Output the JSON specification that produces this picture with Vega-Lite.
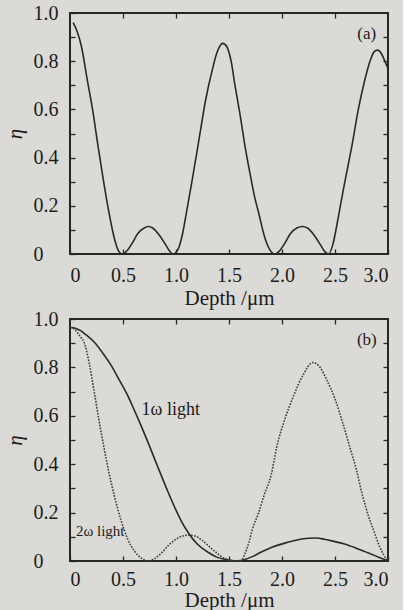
{
  "$schema": "https://vega.github.io/schema/vega-lite/v6.json",
  "background": "#dbdad6",
  "padding": {"left": 3, "top": 2, "right": 10, "bottom": 0},
  "spacing": -1,
  "config": {
    "font": "Liberation Serif",
    "view": {"stroke": "#262626", "strokeWidth": 2},
    "axis": {
      "grid": false, "domain": false, "tickColor": "#262626", "tickWidth": 1.3, "tickSize": 5, "offset": -5,
      "labelFont": "Liberation Serif", "labelFontSize": 20, "labelColor": "#1c1c1c",
      "titleFont": "Liberation Serif", "titleFontSize": 21, "titleFontWeight": "normal", "titleColor": "#1c1c1c"
    },
    "line": {"interpolate": "monotone", "color": "#2a2a2a", "strokeWidth": 1.6},
    "text": {"font": "Liberation Serif", "color": "#1c1c1c"}
  },
  "datasets": {
    "one": [{}],
    "a": [
      {"d":0.03,"eta":0.96},{"d":0.07,"eta":0.92},{"d":0.11,"eta":0.857},{"d":0.16,"eta":0.73},{"d":0.22,"eta":0.58},{"d":0.26,"eta":0.46},{"d":0.31,"eta":0.32},{"d":0.36,"eta":0.19},{"d":0.41,"eta":0.08},{"d":0.45,"eta":0.02},{"d":0.49,"eta":0.0},{"d":0.53,"eta":0.01},{"d":0.58,"eta":0.04},{"d":0.64,"eta":0.085},{"d":0.70,"eta":0.108},{"d":0.74,"eta":0.114},{"d":0.78,"eta":0.108},{"d":0.84,"eta":0.08},{"d":0.90,"eta":0.04},{"d":0.94,"eta":0.012},{"d":0.975,"eta":0.0},{"d":1.02,"eta":0.02},{"d":1.06,"eta":0.08},{"d":1.10,"eta":0.176},{"d":1.15,"eta":0.30},{"d":1.20,"eta":0.43},{"d":1.23,"eta":0.51},{"d":1.28,"eta":0.64},{"d":1.34,"eta":0.76},{"d":1.39,"eta":0.84},{"d":1.44,"eta":0.874},{"d":1.48,"eta":0.86},{"d":1.52,"eta":0.80},{"d":1.56,"eta":0.69},{"d":1.60,"eta":0.59},{"d":1.65,"eta":0.45},{"d":1.70,"eta":0.33},{"d":1.74,"eta":0.24},{"d":1.78,"eta":0.17},{"d":1.83,"eta":0.08},{"d":1.87,"eta":0.03},{"d":1.90,"eta":0.008},{"d":1.93,"eta":0.0},{"d":1.97,"eta":0.01},{"d":2.02,"eta":0.04},{"d":2.08,"eta":0.085},{"d":2.14,"eta":0.108},{"d":2.19,"eta":0.114},{"d":2.24,"eta":0.108},{"d":2.30,"eta":0.08},{"d":2.36,"eta":0.04},{"d":2.40,"eta":0.012},{"d":2.44,"eta":0.0},{"d":2.48,"eta":0.04},{"d":2.53,"eta":0.15},{"d":2.58,"eta":0.27},{"d":2.62,"eta":0.36},{"d":2.66,"eta":0.45},{"d":2.72,"eta":0.60},{"d":2.78,"eta":0.72},{"d":2.83,"eta":0.80},{"d":2.87,"eta":0.84},{"d":2.90,"eta":0.846},{"d":2.94,"eta":0.83},{"d":2.97,"eta":0.80},{"d":3.0,"eta":0.77}
    ],
    "b1": [
      {"d":0,"eta":0.965},{"d":0.05,"eta":0.962},{"d":0.10,"eta":0.952},{"d":0.15,"eta":0.935},{"d":0.23,"eta":0.904},{"d":0.30,"eta":0.865},{"d":0.39,"eta":0.807},{"d":0.45,"eta":0.76},{"d":0.545,"eta":0.683},{"d":0.60,"eta":0.63},{"d":0.65,"eta":0.58},{"d":0.736,"eta":0.49},{"d":0.80,"eta":0.42},{"d":0.85,"eta":0.365},{"d":0.926,"eta":0.284},{"d":1.00,"eta":0.21},{"d":1.05,"eta":0.165},{"d":1.116,"eta":0.117},{"d":1.20,"eta":0.07},{"d":1.306,"eta":0.035},{"d":1.38,"eta":0.017},{"d":1.46,"eta":0.007},{"d":1.53,"eta":0.002},{"d":1.58,"eta":0.001},{"d":1.65,"eta":0.006},{"d":1.72,"eta":0.018},{"d":1.80,"eta":0.036},{"d":1.90,"eta":0.056},{"d":2.05,"eta":0.077},{"d":2.15,"eta":0.088},{"d":2.25,"eta":0.094},{"d":2.32,"eta":0.095},{"d":2.40,"eta":0.09},{"d":2.50,"eta":0.08},{"d":2.59,"eta":0.07},{"d":2.70,"eta":0.053},{"d":2.81,"eta":0.034},{"d":2.90,"eta":0.018},{"d":3.00,"eta":0.0}
    ],
    "b2": [
      {"d":0,"eta":0.965},{"d":0.05,"eta":0.955},{"d":0.10,"eta":0.925},{"d":0.133,"eta":0.904},{"d":0.18,"eta":0.82},{"d":0.228,"eta":0.70},{"d":0.27,"eta":0.59},{"d":0.323,"eta":0.463},{"d":0.37,"eta":0.36},{"d":0.418,"eta":0.27},{"d":0.48,"eta":0.17},{"d":0.545,"eta":0.09},{"d":0.61,"eta":0.04},{"d":0.672,"eta":0.012},{"d":0.735,"eta":0.0},{"d":0.80,"eta":0.01},{"d":0.86,"eta":0.032},{"d":0.926,"eta":0.063},{"d":1.00,"eta":0.09},{"d":1.06,"eta":0.103},{"d":1.12,"eta":0.107},{"d":1.18,"eta":0.103},{"d":1.24,"eta":0.088},{"d":1.306,"eta":0.063},{"d":1.38,"eta":0.035},{"d":1.46,"eta":0.01},{"d":1.53,"eta":0.001},{"d":1.61,"eta":0.0},{"d":1.65,"eta":0.03},{"d":1.69,"eta":0.08},{"d":1.72,"eta":0.13},{"d":1.78,"eta":0.20},{"d":1.83,"eta":0.27},{"d":1.90,"eta":0.36},{"d":1.95,"eta":0.47},{"d":2.03,"eta":0.59},{"d":2.11,"eta":0.683},{"d":2.20,"eta":0.77},{"d":2.29,"eta":0.82},{"d":2.36,"eta":0.80},{"d":2.42,"eta":0.75},{"d":2.50,"eta":0.67},{"d":2.58,"eta":0.56},{"d":2.64,"eta":0.47},{"d":2.70,"eta":0.38},{"d":2.76,"eta":0.27},{"d":2.82,"eta":0.18},{"d":2.87,"eta":0.12},{"d":2.92,"eta":0.06},{"d":2.96,"eta":0.025},{"d":3.0,"eta":0.0}
    ]
  },
  "vconcat": [
    {
      "width": 318, "height": 241,
      "resolve": {"axis": {"x": "independent", "y": "independent"}},
      "layer": [
        {
          "data": {"name": "a"},
          "mark": {"type": "line"},
          "encoding": {
            "x": {"field": "d", "type": "quantitative", "scale": {"domain": [0, 3], "nice": false},
              "axis": {"orient": "bottom", "title": "Depth /μm", "values": [0, 0.5, 1, 1.5, 2, 2.5, 3], "labelExpr": "datum.value == 0 ? '0' : format(datum.value, '.1f')", "labelPadding": 11, "titlePadding": 2}},
            "y": {"field": "eta", "type": "quantitative", "scale": {"domain": [0, 1], "nice": false},
              "axis": {"orient": "left", "title": "η", "titleFontStyle": "italic", "values": [0, 0.1, 0.2, 0.3, 0.4, 0.5, 0.6, 0.7, 0.8, 0.9, 1.0], "labelExpr": "round(datum.value * 10) % 2 == 0 ? (datum.value == 0 ? '0' : format(datum.value, '.1f')) : ''", "labelAlign": "left", "labelPadding": 37, "titlePadding": 8}}
          }
        },
        {
          "data": {"name": "one"},
          "mark": {"type": "text", "text": "(a)", "fontSize": 17},
          "encoding": {
            "x": {"datum": 2.8, "type": "quantitative", "axis": {"orient": "top", "title": null, "labels": false, "values": [0.5, 1, 1.5, 2, 2.5]}},
            "y": {"datum": 0.913, "type": "quantitative", "axis": {"orient": "right", "title": null, "labels": false, "values": [0.1, 0.2, 0.3, 0.4, 0.5, 0.6, 0.7, 0.8, 0.9]}}
          }
        }
      ]
    },
    {
      "width": 318, "height": 242,
      "resolve": {"axis": {"x": "independent", "y": "independent"}},
      "layer": [
        {
          "data": {"name": "b1"},
          "mark": {"type": "line"},
          "encoding": {
            "x": {"field": "d", "type": "quantitative", "scale": {"domain": [0, 3], "nice": false},
              "axis": {"orient": "bottom", "title": "Depth /μm", "values": [0, 0.5, 1, 1.5, 2, 2.5, 3], "labelExpr": "datum.value == 0 ? '0' : format(datum.value, '.1f')", "labelPadding": 8, "titlePadding": 0}},
            "y": {"field": "eta", "type": "quantitative", "scale": {"domain": [0, 1], "nice": false},
              "axis": {"orient": "left", "title": "η", "titleFontStyle": "italic", "values": [0, 0.1, 0.2, 0.3, 0.4, 0.5, 0.6, 0.7, 0.8, 0.9, 1.0], "labelExpr": "round(datum.value * 10) % 2 == 0 ? (datum.value == 0 ? '0' : format(datum.value, '.1f')) : ''", "labelAlign": "left", "labelPadding": 37, "titlePadding": 8}}
          }
        },
        {
          "data": {"name": "b2"},
          "mark": {"type": "line", "strokeDash": [1.6, 1.4], "color": "#3c3c3c", "strokeWidth": 1.6},
          "encoding": {
            "x": {"field": "d", "type": "quantitative", "axis": null},
            "y": {"field": "eta", "type": "quantitative", "axis": null}
          }
        },
        {
          "data": {"name": "one"},
          "mark": {"type": "text", "text": "(b)", "fontSize": 17},
          "encoding": {
            "x": {"datum": 2.8, "type": "quantitative", "axis": {"orient": "top", "title": null, "labels": false, "values": [0.5, 1, 1.5, 2, 2.5]}},
            "y": {"datum": 0.913, "type": "quantitative", "axis": {"orient": "right", "title": null, "labels": false, "values": [0.1, 0.2, 0.3, 0.4, 0.5, 0.6, 0.7, 0.8, 0.9]}}
          }
        },
        {
          "data": {"name": "one"},
          "mark": {"type": "text", "text": "1ω light", "fontSize": 18},
          "encoding": {"x": {"datum": 0.95, "type": "quantitative", "axis": null}, "y": {"datum": 0.624, "type": "quantitative", "axis": null}}
        },
        {
          "data": {"name": "one"},
          "mark": {"type": "text", "text": "2ω light", "fontSize": 15},
          "encoding": {"x": {"datum": 0.285, "type": "quantitative", "axis": null}, "y": {"datum": 0.124, "type": "quantitative", "axis": null}}
        }
      ]
    }
  ]
}
